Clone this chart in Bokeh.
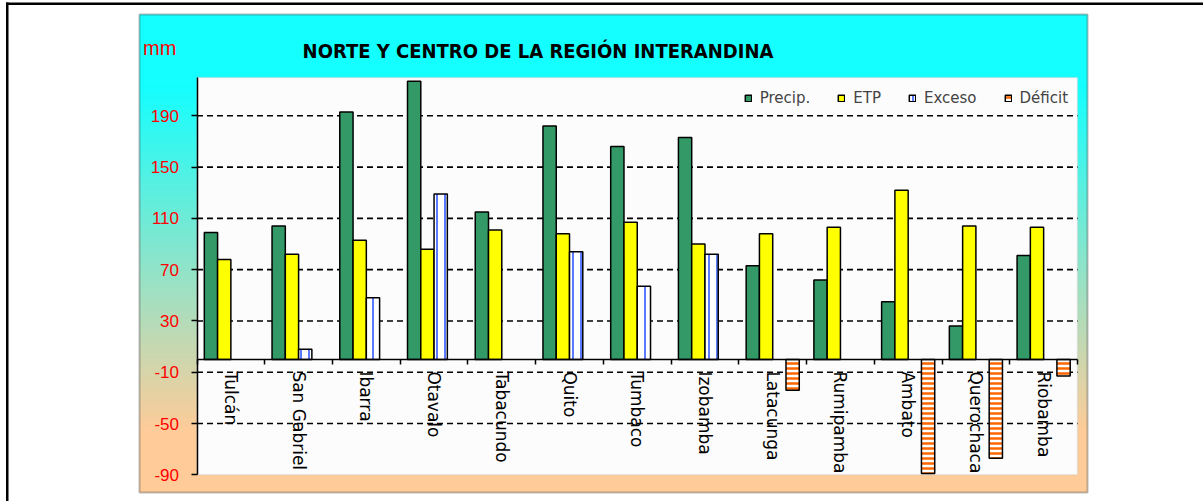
import math
import numpy as np
from bokeh.plotting import figure
from bokeh.models import (Range1d, LinearAxis, FixedTicker, ColumnDataSource, Legend,
                          LegendItem, BoxAnnotation, Label)
from bokeh.embed import file_html
from bokeh.resources import INLINE

# ---------------- data ----------------
categories = ["Tulcán", "San Gabriel", "Ibarra", "Otavalo", "Tabacundo", "Quito", "Tumbaco",
              "Izobamba", "Latacunga", "Rumipamba", "Ambato", "Querochaca", "Riobamba"]
precip = [99, 104, 193, 217, 115, 182, 166, 173, 73, 62, 45, 26, 81]
etp = [78, 82, 93, 86, 101, 98, 107, 90, 98, 103, 132, 104, 103]
exceso = [0, 8, 48, 129, 0, 84, 57, 82, 0, 0, 0, 0, 0]
deficit = [0, 0, 0, 0, 0, 0, 0, 0, -24, 0, -89, -77, -13]
y_ticks = [-90, -50, -10, 30, 70, 110, 150, 190]
series_names = ["Precip.", "ETP", "Exceso", "Déficit"]
title_text = "NORTE Y CENTRO DE LA REGIÓN INTERANDINA"
unit_text = "mm"

# ---------------- layout (page pixels) ----------------
W, H = 1203, 501
OX, OY = 0, 0
PLOT_L, PLOT_R, PLOT_T = 196.5, 1077.0, 77.0
Y_BOT_PX = 474.3
PX_PER_MM = 1.2821
n = len(categories)
PXU = (PLOT_R - PLOT_L) / n
y_min = y_ticks[0]


def dx(sx):
    return (sx - PLOT_L) / PXU


def dy(sy):
    return y_min + (Y_BOT_PX - sy) / PX_PER_MM


p = figure(width=W, height=H,
           x_range=Range1d(dx(OX), dx(OX + W)), y_range=Range1d(dy(OY + H), dy(OY)),
           min_border=0, toolbar_location=None, output_backend="svg",
           x_axis_location=None, y_axis_location=None, title=None)
p.outline_line_color = None
p.background_fill_color = "white"
p.border_fill_color = "white"
p.grid.visible = False

# ---------------- chart box gradient ----------------
BOX_L, BOX_R, BOX_T, BOX_B = 139, 1087, 14, 492
rows = int(BOX_B - BOX_T)
top_col = np.array([20, 255, 255], dtype=float)
bot_col = np.array([255, 204, 153], dtype=float)
G0, G1 = 85, 430
sy = BOX_T + np.arange(rows) + 0.5
t = np.clip((sy - G0) / (G1 - G0), 0, 1)
cols = top_col[None, :] * (1 - t[:, None]) + bot_col[None, :] * t[:, None]
img = np.zeros((rows, 1), dtype=np.uint32)
view = img.view(dtype=np.uint8).reshape((rows, 1, 4))
view[:, 0, 0] = cols[:, 0].astype(np.uint8)
view[:, 0, 1] = cols[:, 1].astype(np.uint8)
view[:, 0, 2] = cols[:, 2].astype(np.uint8)
view[:, 0, 3] = 255
img = img[::-1].copy()
p.image_rgba(image=[img], x=dx(BOX_L), y=dy(BOX_B), dw=dx(BOX_R) - dx(BOX_L),
             dh=dy(BOX_T) - dy(BOX_B), level="image")

p.add_layout(BoxAnnotation(left=dx(BOX_L), right=dx(BOX_R), top=dy(BOX_T), bottom=dy(BOX_B),
                           fill_alpha=0, line_color="#222222", line_width=2, level="underlay"))
p.add_layout(BoxAnnotation(left=0, right=n, top=dy(PLOT_T), bottom=y_min,
                           fill_color="#FCFCFC", fill_alpha=1, line_color="#C4C4C4",
                           line_width=1.5, level="underlay"))

# outer page frame (top and left)
p.add_layout(BoxAnnotation(left=dx(5.5), right=dx(1203), top=dy(2), bottom=dy(4.5),
                           fill_color="black", fill_alpha=1, line_color=None, level="overlay"))
p.add_layout(BoxAnnotation(left=dx(5.5), right=dx(8), top=dy(2), bottom=dy(501),
                           fill_color="black", fill_alpha=1, line_color=None, level="overlay"))

# ---------------- grid lines ----------------
grid_y = [v for v in y_ticks if v > y_min]
p.segment(x0=[0] * len(grid_y), x1=[n] * len(grid_y), y0=grid_y, y1=grid_y,
          line_color="black", line_width=1.6, line_dash="6 4")

# ---------------- bars ----------------
bw = 0.196
centers = np.arange(n) + 0.5
offs = [-1.5 * bw, -0.5 * bw, 0.5 * bw, 1.5 * bw]

src_p = ColumnDataSource(dict(x=centers + offs[0], top=precip))
src_e = ColumnDataSource(dict(x=centers + offs[1], top=etp))
ex_idx = [i for i, v in enumerate(exceso) if v > 0]
src_x = ColumnDataSource(dict(x=[centers[i] + offs[2] for i in ex_idx], top=[exceso[i] for i in ex_idx]))
de_idx = [i for i, v in enumerate(deficit) if v < 0]
src_d = ColumnDataSource(dict(x=[centers[i] + offs[3] for i in de_idx], bottom=[deficit[i] for i in de_idx]))

r_p = p.vbar(x="x", top="top", bottom=0, width=bw, source=src_p,
             fill_color="#339966", line_color="black", line_width=1.5)
r_e = p.vbar(x="x", top="top", bottom=0, width=bw, source=src_e,
             fill_color="#FFFF00", line_color="black", line_width=1.5)
r_x = p.vbar(x="x", top="top", bottom=0, width=bw, source=src_x,
             fill_color="white", line_color="black", line_width=1.5,
             hatch_pattern="vertical_line", hatch_color="#5A7BFF", hatch_scale=8, hatch_weight=2)
r_d = p.vbar(x="x", top=0, bottom="bottom", width=bw, source=src_d,
             fill_color="white", line_color="black", line_width=1.5,
             hatch_pattern="horizontal_line", hatch_color="#FF6600", hatch_scale=5, hatch_weight=2.5)

# ---------------- axes ----------------
yax = LinearAxis(fixed_location=0, bounds=(y_min, dy(PLOT_T)), ticker=FixedTicker(ticks=y_ticks),
                 major_label_overrides={v: str(v) for v in y_ticks},
                 axis_line_color="black", axis_line_width=1.5,
                 major_tick_line_color="black", major_tick_line_width=1.5,
                 major_tick_out=6, major_tick_in=0, minor_tick_line_color=None,
                 major_label_text_color="#FF0000", major_label_text_font="Liberation Sans",
                 major_label_text_font_size="17px", major_label_standoff=12)
p.add_layout(yax, "left")

xax = LinearAxis(fixed_location=0, bounds=(0, n), ticker=FixedTicker(ticks=list(range(n + 1))),
                 major_label_overrides={i: "" for i in range(n + 1)},
                 axis_line_color="black", axis_line_width=1.5,
                 major_tick_line_color="black", major_tick_line_width=1.5,
                 major_tick_out=5, major_tick_in=0, minor_tick_line_color=None)
p.add_layout(xax, "below")

label_ticks = [i + 0.5 for i in range(n)]
xlab = LinearAxis(fixed_location=0, ticker=FixedTicker(ticks=label_ticks),
                  major_label_overrides={tk: c for tk, c in zip(label_ticks, categories)},
                  axis_line_color=None, major_tick_line_color=None, minor_tick_line_color=None,
                  major_tick_out=0, major_tick_in=0,
                  major_label_orientation=-math.pi / 2, major_label_standoff=12,
                  major_label_text_font="DejaVu Sans", major_label_text_font_size="17px",
                  major_label_text_color="black")
p.add_layout(xlab, "below")

# ---------------- texts ----------------
p.add_layout(Label(x=dx(537.5), y=dy(50), text=title_text, text_font="DejaVu Sans Condensed",
                   text_font_style="bold", text_font_size="20px", text_align="center",
                   text_baseline="middle", text_color="black"))
p.add_layout(Label(x=dx(142.5), y=dy(47), text=unit_text, text_font="Liberation Sans",
                   text_font_size="20px", text_align="left", text_baseline="middle",
                   text_color="#FF0000"))

# ---------------- legend ----------------
legend = Legend(items=[LegendItem(label=nm, renderers=[r]) for nm, r in zip(series_names, [r_p, r_e, r_x, r_d])],
                orientation="horizontal", location=(743.7, 393.7), margin=0, padding=4,
                glyph_width=8, glyph_height=8, label_standoff=8, spacing=27,
                label_text_font="DejaVu Sans", label_text_font_size="15px",
                background_fill_alpha=0, border_line_color=None)
p.add_layout(legend, "center")

open("out.html", "w").write(file_html(p, INLINE))
